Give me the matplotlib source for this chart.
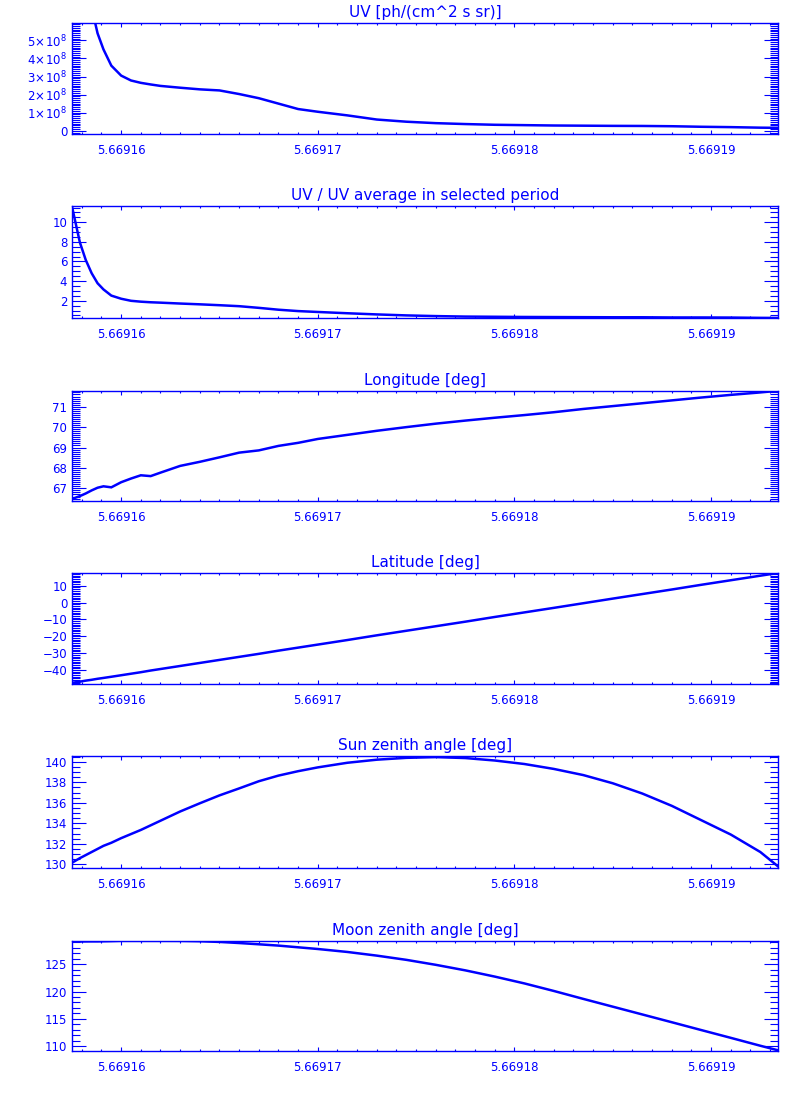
import matplotlib
matplotlib.use("Agg")
import matplotlib.pyplot as plt
from matplotlib.ticker import MultipleLocator, FormatStrFormatter, FuncFormatter

# ---------------- data ----------------
time = [5.6691575, 5.6691579, 5.6691582, 5.6691585, 5.6691588, 5.6691591,
        5.6691595, 5.6691600, 5.6691605, 5.6691610, 5.6691615, 5.6691620,
        5.6691630, 5.6691640, 5.6691650, 5.6691660, 5.6691670, 5.6691680,
        5.6691690, 5.6691700, 5.6691715, 5.6691730, 5.6691745, 5.6691760,
        5.6691775, 5.6691790, 5.6691805, 5.6691820, 5.6691835, 5.6691850,
        5.6691865, 5.6691880, 5.6691895, 5.6691910, 5.6691925, 5.6691934]

uv = [16.5e8, 11.3e8, 8.8e8, 6.8e8, 5.39e8, 4.5e8,
      3.6e8, 3.05e8, 2.78e8, 2.65e8, 2.56e8, 2.48e8,
      2.38e8, 2.29e8, 2.23e8, 2.03e8, 1.80e8, 1.50e8,
      1.20e8, 1.05e8, 0.85e8, 0.62e8, 0.50e8, 0.42e8,
      0.37e8, 0.33e8, 0.31e8, 0.29e8, 0.28e8, 0.27e8,
      0.265e8, 0.25e8, 0.22e8, 0.20e8, 0.17e8, 0.16e8]

uv_ratio = [11.6, 7.95, 6.15, 4.8, 3.78, 3.15,
            2.52, 2.2, 1.99, 1.9, 1.84, 1.8,
            1.71, 1.63, 1.54, 1.44, 1.27, 1.08,
            0.94, 0.85, 0.72, 0.6, 0.5, 0.43,
            0.38, 0.36, 0.34, 0.33, 0.32, 0.31,
            0.31, 0.29, 0.29, 0.28, 0.25, 0.24]

longitude = [66.48, 66.62, 66.75, 66.9, 67.03, 67.1,
             67.05, 67.3, 67.48, 67.64, 67.6, 67.77,
             68.1, 68.3, 68.52, 68.75, 68.86, 69.08,
             69.23, 69.42, 69.62, 69.82, 70.0, 70.17,
             70.32, 70.46, 70.59, 70.73, 70.89, 71.03,
             71.17, 71.31, 71.45, 71.58, 71.7, 71.78]

latitude = [-47.6, -46.9, -46.3, -45.8, -45.2, -44.7,
            -44.0, -43.1, -42.2, -41.3, -40.3, -39.4,
            -37.6, -35.8, -34.0, -32.2, -30.4, -28.5,
            -26.7, -24.9, -22.2, -19.4, -16.7, -14.0,
            -11.3, -8.5, -5.8, -3.1, -0.35, 2.4,
            5.1, 7.8, 10.6, 13.3, 16.0, 17.6]

sun_zenith = [130.15, 130.6, 130.9, 131.2, 131.5, 131.8,
              132.1, 132.55, 132.95, 133.35, 133.8, 134.25,
              135.15, 135.95, 136.72, 137.4, 138.1, 138.65,
              139.08, 139.45, 139.9, 140.2, 140.38, 140.45,
              140.36, 140.12, 139.78, 139.3, 138.7, 137.9,
              136.9, 135.7, 134.3, 132.9, 131.2, 129.8]

moon_zenith = [129.12, 129.13, 129.14, 129.15, 129.15, 129.17,
               129.2, 129.25, 129.25, 129.25, 129.25, 129.25,
               129.24, 129.18, 129.05, 128.85, 128.62, 128.38,
               128.07, 127.76, 127.22, 126.55, 125.78, 124.87,
               123.86, 122.72, 121.48, 120.1, 118.65, 117.23,
               115.81, 114.39, 112.96, 111.54, 110.1, 109.27]

titles = ["UV [ph/(cm^2 s sr)]", "UV / UV average in selected period",
          "Longitude [deg]", "Latitude [deg]", "Sun zenith angle [deg]",
          "Moon zenith angle [deg]"]

series = [uv, uv_ratio, longitude, latitude, sun_zenith, moon_zenith]
ylims = [(-0.18e8, 5.96e8), (0.235, 11.66), (66.38, 71.77), (-48.3, 17.6),
         (129.64, 140.56), (109.14, 129.22)]
ymajor = [1e8, 2, 1, 10, 2, 5]
yminor = [1e7, 0.5, 0.1, 1, 0.5, 1]
xlim = (5.6691575, 5.6691934)

# ---------------- layout / style ----------------
BLUE = "#0000ff"
plt.rcParams['font.family'] = ['DejaVu Sans']
plt.rcParams['mathtext.fontset'] = 'dejavusans'

fig = plt.figure(figsize=(8, 11), dpi=100)
tops = [23, 206, 391, 573, 756, 941]
bots = [134, 318, 501, 684, 868, 1051]
left_px, right_px = 72, 778


def uv_fmt(v, pos):
    n = int(round(v / 1e8))
    if n == 0:
        return "0"
    return r"$%d\!\times\!10^{8}$" % n


def int_fmt(v, pos):
    n = int(round(v))
    return ("\u2212%d" % -n) if n < 0 else "%d" % n


for i in range(6):
    ax = fig.add_axes([left_px / 800, 1 - bots[i] / 1100,
                       (right_px - left_px) / 800, (bots[i] - tops[i]) / 1100])
    ax.plot(time, series[i], color=BLUE, lw=1.8, solid_joinstyle='miter')
    ax.set_xlim(*xlim)
    ax.set_ylim(*ylims[i])
    ax.xaxis.set_major_locator(MultipleLocator(1e-5))
    ax.xaxis.set_minor_locator(MultipleLocator(1e-6))
    ax.xaxis.set_major_formatter(FormatStrFormatter('%.5f'))
    ax.yaxis.set_major_locator(MultipleLocator(ymajor[i]))
    ax.yaxis.set_minor_locator(MultipleLocator(yminor[i]))
    if i == 0:
        ax.yaxis.set_major_formatter(FuncFormatter(uv_fmt))
    else:
        ax.yaxis.set_major_formatter(FuncFormatter(int_fmt))
    for s in ax.spines.values():
        s.set_color(BLUE)
        s.set_linewidth(1.0)
    ax.tick_params(axis='both', which='both', direction='in', colors=BLUE,
                   top=True, right=True, width=0.8, labelsize=8.5)
    ax.tick_params(axis='x', which='major', length=3, pad=7)
    ax.tick_params(axis='x', which='minor', length=1.6)
    ax.tick_params(axis='y', which='major', length=10, pad=3.5)
    ax.tick_params(axis='y', which='minor', length=5.5)
    ax.set_title(titles[i], color=BLUE, fontsize=11, pad=4)

fig.savefig("out.png", dpi=100, facecolor="white")
